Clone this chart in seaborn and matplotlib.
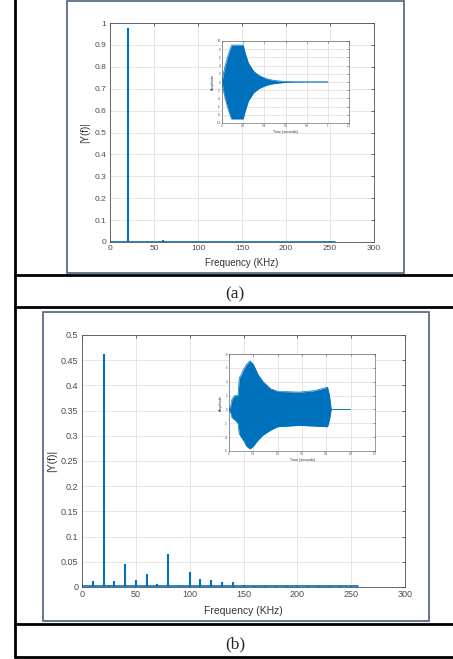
import numpy as np
import pandas as pd
import seaborn as sns
import matplotlib.pyplot as plt
from matplotlib.lines import Line2D
from matplotlib.patches import Rectangle
from matplotlib.ticker import FuncFormatter

# ---- data ----
# (a) spectrum
a_peak_freq = [20, 60, 250]
a_peak_mag = [0.975, 0.008, 0.004]
a_base_freq = [0, 256]
a_base_mag = [0.002, 0.002]

# (a) inset: envelope of the time signal
a_t = [0.0, 0.013, 0.03, 0.06, 0.09, 0.2, 0.22, 0.25, 0.3, 0.35, 0.4, 0.45, 0.5, 0.6, 0.7, 0.8, 1.0]
a_upper = [0.0, 2.0, 4.0, 6.8, 9.0, 9.0, 7.0, 4.6, 2.6, 1.6, 1.0, 0.6, 0.35, 0.1, 0.03, 0.0, 0.0]
a_lower = [-v for v in a_upper]

# (b) spectrum
b_peak_freq = [10, 20, 25, 30, 40, 50, 60, 70, 80, 90, 100, 110, 120, 130, 140, 150, 160,
               170, 180, 190, 200, 210, 220, 230, 240, 250]
b_peak_mag = [0.012, 0.462, 0.003, 0.012, 0.046, 0.013, 0.025, 0.005, 0.066, 0.002, 0.029,
              0.016, 0.014, 0.010, 0.009, 0.004, 0.002, 0.0015, 0.002, 0.0015, 0.002, 0.0015,
              0.0015, 0.0015, 0.0015, 0.002]
b_base_freq = [0, 256]
b_base_mag = [0.001, 0.001]

# (b) inset: envelope of the time signal
b_t = [0.0, 0.007, 0.0125, 0.024, 0.037, 0.042, 0.05, 0.06, 0.072, 0.086, 0.1, 0.12, 0.14,
       0.17, 0.2, 0.29, 0.35, 0.405, 0.413, 0.42, 0.5]
b_upper = [0.0, 0.5, 1.5, 2.0, 2.0, 4.5, 5.0, 5.8, 6.5, 7.0, 6.5, 5.0, 4.0, 3.0, 2.6, 2.5,
           2.7, 3.2, 2.0, 0.0, 0.0]
b_lower = [0.0, -0.5, -1.2, -1.5, -2.0, -3.5, -4.0, -4.5, -5.3, -5.7, -5.3, -4.4, -3.7,
           -3.0, -2.5, -2.3, -2.4, -2.5, -1.5, 0.0, 0.0]

W, H = 453, 659
BLUE = "#0072BD"

sns.set_style("white")
plt.rcParams["font.family"] = ["Liberation Sans", "DejaVu Sans"]

fig = plt.figure(figsize=(W / 100, H / 100), dpi=100)


def rect(left, top, right, bottom):
    return [left / W, 1 - bottom / H, (right - left) / W, (bottom - top) / H]


def fmt(v, pos):
    return "%g" % round(v, 4)


def matlab_axes(ax, fs, lw=0.6):
    ax.grid(True, color="#dcdcdc", lw=0.5)
    ax.set_axisbelow(True)
    for s in ax.spines.values():
        s.set_color("#4d4d4d")
        s.set_linewidth(lw)
        s.set_visible(True)
    ax.tick_params(direction="in", top=True, right=True, labelsize=fs,
                   colors="#4d4d4d", length=2.5, width=lw, pad=2.5)
    ax.xaxis.set_major_formatter(FuncFormatter(fmt))
    ax.yaxis.set_major_formatter(FuncFormatter(fmt))


def spectrum(ax, pf, pm, bf, bm, ylim, ystep, fs, xpad):
    sns.lineplot(x=bf, y=bm, ax=ax, color=BLUE, lw=1.2)
    ax.vlines(pf, 0, pm, color=BLUE, lw=1.5)
    ax.set_xlim(0, 300)
    ax.set_ylim(0, ylim)
    ax.set_xticks(np.arange(0, 301, 50))
    ax.set_yticks(np.arange(0, ylim + 1e-9, ystep))
    matlab_axes(ax, fs)
    ax.set_xlabel("Frequency (KHz)", fontsize=fs + 1, color="#333333", labelpad=xpad)
    ax.set_ylabel("|Y(f)|", fontsize=fs + 1, color="#333333", labelpad=3)


def inset(ax, t, up, lo, xlim, xstep, ylim, ystep):
    df = pd.DataFrame({"t": t, "up": up, "lo": lo})
    ax.fill_between(df["t"], df["lo"], df["up"], color=BLUE, lw=0)
    sns.lineplot(data=df, x="t", y="up", ax=ax, color=BLUE, lw=0.5)
    sns.lineplot(data=df, x="t", y="lo", ax=ax, color=BLUE, lw=0.5)
    ax.set_xlim(*xlim)
    ax.set_ylim(*ylim)
    ax.set_xticks(np.arange(xlim[0], xlim[1] + 1e-9, xstep))
    ax.set_yticks(np.arange(ylim[0], ylim[1] + 1e-9, ystep))
    matlab_axes(ax, 2.2, lw=0.4)
    ax.tick_params(length=1.2, pad=1)
    ax.set_xlabel("Time (seconds)", fontsize=2.6, color="#333333", labelpad=1)
    ax.set_ylabel("Amplitude", fontsize=2.6, color="#333333", labelpad=1)


# panel (a)
ax1 = fig.add_axes(rect(110, 23, 374, 242))
spectrum(ax1, a_peak_freq, a_peak_mag, a_base_freq, a_base_mag, 1.0, 0.1, 6, 4)
ax1i = fig.add_axes(rect(222, 41, 349, 123))
inset(ax1i, a_t, a_upper, a_lower, (0, 1.2), 0.2, (-10, 10), 2)

# panel (b)
ax2 = fig.add_axes(rect(82, 335, 405, 587))
spectrum(ax2, b_peak_freq, b_peak_mag, b_base_freq, b_base_mag, 0.5, 0.05, 6.5, 5)
ax2i = fig.add_axes(rect(229, 354, 375, 451))
inset(ax2i, b_t, b_upper, b_lower, (0, 0.6), 0.1, (-6, 8), 2)

# image frames
for l, t, r, b in [(67, 1, 404, 273), (43, 312, 429, 621)]:
    fig.patches.append(Rectangle((l / W, 1 - b / H), (r - l) / W, (b - t) / H,
                                 transform=fig.transFigure, fill=False,
                                 edgecolor="#4f5f7f", lw=1.2, zorder=-1))


# table rules
def hline(y):
    fig.lines.append(Line2D([15 / W, 1], [1 - y / H] * 2, transform=fig.transFigure,
                            color="black", lw=2))


for y in [275, 307, 624, 657]:
    hline(y)
fig.lines.append(Line2D([15 / W] * 2, [1, 1 - 657 / H], transform=fig.transFigure,
                        color="black", lw=2))

# captions
fig.text(235 / W, 1 - 294 / H, "(a)", ha="center", va="center", fontsize=12.5,
         family=["Liberation Serif", "DejaVu Serif"])
fig.text(235 / W, 1 - 644 / H, "(b)", ha="center", va="center", fontsize=12.5,
         family=["Liberation Serif", "DejaVu Serif"])

fig.savefig("out.png", dpi=100)
